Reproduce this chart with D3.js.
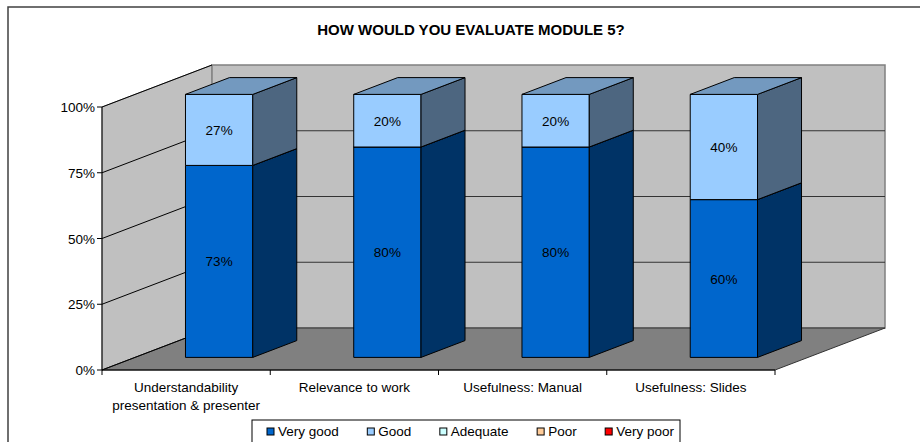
<!DOCTYPE html>
<html>
<head>
<meta charset="utf-8">
<script src="https://cdn.jsdelivr.net/npm/d3@7"></script>
<style>
  body { margin: 0; background: #fff; }
  svg { display: block; font-family: "Liberation Sans", Arial, sans-serif; }
</style>
</head>
<body>
<svg id="chart" width="920" height="442"></svg>
<script>
// data
const title = "HOW WOULD YOU EVALUATE MODULE 5?"
const categories = [
  ["Understandability", "presentation & presenter"],
  ["Relevance to work"],
  ["Usefulness: Manual"],
  ["Usefulness: Slides"]
]
const seriesNames = ["Very good", "Good", "Adequate", "Poor", "Very poor"]
const veryGood = [73, 80, 80, 60]
const good = [27, 20, 20, 40]
const adequate = [0, 0, 0, 0]
const poor = [0, 0, 0, 0]
const veryPoor = [0, 0, 0, 0]
const seriesColors = ["#0066CC", "#99CCFF", "#CCFFFF", "#FFCC99", "#FF0000"]
const yTicks = [0, 25, 50, 75, 100]

const font = 13.5
const svg = d3.select("#chart")

// outer frame
svg.append("rect")
  .attr("x", 8).attr("y", 7).attr("width", 940).attr("height", 470)
  .attr("fill", "#fff").attr("stroke", "#404040").attr("stroke-width", 1.5)

svg.append("text")
  .attr("x", 471).attr("y", 35)
  .attr("text-anchor", "middle")
  .attr("font-weight", "bold").attr("font-size", 15)
  .text(title)

// pseudo 3d frame: front plane origin + depth offset
const ox = 102, oy = 370, plotW = 673, plotH = 263
const depthX = 110, depthY = -42
const barFront = 0.3, barBack = 0.7

const x = d3.scaleBand()
  .domain(d3.range(categories.length))
  .range([0, plotW])
  .paddingInner(0.6).paddingOuter(0.3)
const y = d3.scaleLinear().domain([0, 100]).range([0, plotH])

function pt(px, v, d) {
  return [ox + px + d * depthX, oy - y(v) + d * depthY]
}
const line = d3.line()
function poly(pts) { return line(pts) + "Z" }

function shade(c, k) {
  const col = d3.rgb(c)
  return d3.rgb(col.r * k, col.g * k, col.b * k).formatHex()
}

const walls = svg.append("g")
// side wall
walls.append("path")
  .attr("d", poly([pt(0, 0, 0), pt(0, 100, 0), pt(0, 100, 1), pt(0, 0, 1)]))
  .attr("fill", "#C0C0C0").attr("stroke", "#808080")
// back wall
walls.append("path")
  .attr("d", poly([pt(0, 0, 1), pt(0, 100, 1), pt(plotW, 100, 1), pt(plotW, 0, 1)]))
  .attr("fill", "#C0C0C0").attr("stroke", "#808080").attr("stroke-width", 1.5)
// floor
walls.append("path")
  .attr("d", poly([pt(0, 0, 0), pt(plotW, 0, 0), pt(plotW, 0, 1), pt(0, 0, 1)]))
  .attr("fill", "#808080").attr("stroke", "#333")

// gridlines
const grid = yTicks.filter(t => t > 0)
walls.selectAll(".gside").data(grid).join("path")
  .attr("d", t => line([pt(0, t, 0), pt(0, t, 1)]))
  .attr("stroke", "#000").attr("fill", "none")
walls.selectAll(".gback").data(grid.filter(t => t < 100)).join("path")
  .attr("d", t => line([pt(0, t, 1), pt(plotW, t, 1)]))
  .attr("stroke", "#333").attr("fill", "none")
walls.append("path")
  .attr("d", line([pt(0, 0, 0), pt(0, 0, 1)]))
  .attr("stroke", "#000").attr("fill", "none")

// axes
const axis = svg.append("g")
axis.append("path").attr("d", line([pt(0, 0, 0), pt(0, 100, 0)])).attr("stroke", "#000")
axis.append("path").attr("d", line([pt(0, 0, 0), pt(plotW, 0, 0)])).attr("stroke", "#000")
axis.selectAll(".yt").data(yTicks).join("path")
  .attr("d", t => { const p = pt(0, t, 0); return line([[p[0] - 5, p[1]], p]) })
  .attr("stroke", "#000")
axis.selectAll(".ytl").data(yTicks).join("text")
  .attr("x", t => pt(0, t, 0)[0] - 7)
  .attr("y", t => pt(0, t, 0)[1] + 5)
  .attr("text-anchor", "end").attr("font-size", font)
  .text(t => t + "%")
const bounds = d3.range(categories.length + 1).map(i => i * x.step())
axis.selectAll(".xt").data(bounds).join("path")
  .attr("d", b => { const p = pt(b, 0, 0); return line([p, [p[0], p[1] + 5]]) })
  .attr("stroke", "#000")
const xl = axis.selectAll(".xtl").data(categories).join("text")
  .attr("x", (c, i) => pt(x(i) + x.bandwidth() / 2, 0, 0)[0])
  .attr("y", 392)
  .attr("text-anchor", "middle").attr("font-size", font)
xl.selectAll("tspan").data(c => c).join("tspan")
  .attr("x", function () { return this.parentNode.getAttribute("x") })
  .attr("dy", (l, j) => j ? 18 : 0)
  .text(l => l)

// stacked bars
const rows = categories.map((c, i) => ({
  i, "Very good": veryGood[i], "Good": good[i], "Adequate": adequate[i],
  "Poor": poor[i], "Very poor": veryPoor[i]
}))
const stack = d3.stack().keys(seriesNames)(rows)

const bars = svg.append("g")
categories.forEach((c, i) => {
  const xa = x(i), xb = x(i) + x.bandwidth()
  stack.forEach((s, k) => {
    const v0 = s[i][0], v1 = s[i][1]
    if (v1 - v0 <= 0) return
    const col = seriesColors[k]
    const g = bars.append("g").attr("stroke", "#000").attr("stroke-width", 1)
    g.append("path")
      .attr("d", poly([pt(xa, v0, barFront), pt(xb, v0, barFront), pt(xb, v1, barFront), pt(xa, v1, barFront)]))
      .attr("fill", col)
    g.append("path")
      .attr("d", poly([pt(xb, v0, barFront), pt(xb, v0, barBack), pt(xb, v1, barBack), pt(xb, v1, barFront)]))
      .attr("fill", shade(col, 0.5))
    g.append("path")
      .attr("d", poly([pt(xa, v1, barFront), pt(xb, v1, barFront), pt(xb, v1, barBack), pt(xa, v1, barBack)]))
      .attr("fill", shade(col, 0.75))
    const c0 = pt((xa + xb) / 2, (v0 + v1) / 2, barFront)
    bars.append("text")
      .attr("x", c0[0]).attr("y", c0[1] + 5)
      .attr("text-anchor", "middle").attr("font-size", font)
      .text((v1 - v0) + "%")
  })
})

// legend
const legend = svg.append("g")
legend.append("rect")
  .attr("x", 252).attr("y", 420).attr("width", 428).attr("height", 40)
  .attr("fill", "#fff").attr("stroke", "#000")
let lx = 267
seriesNames.forEach((n, k) => {
  legend.append("rect")
    .attr("x", lx).attr("y", 428).attr("width", 7).attr("height", 7)
    .attr("fill", seriesColors[k]).attr("stroke", "#000")
  const t = legend.append("text")
    .attr("x", lx + 11).attr("y", 436).attr("font-size", font)
    .text(n)
  lx += 11 + t.node().getComputedTextLength() + 28.5
})
</script>
</body>
</html>
